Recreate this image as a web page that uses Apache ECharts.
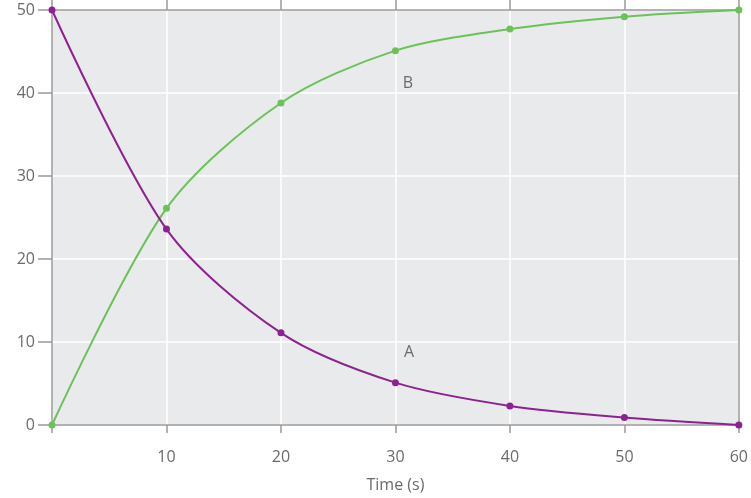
<!DOCTYPE html>
<html>
<head>
<meta charset="utf-8">
<script src="https://cdn.jsdelivr.net/npm/echarts@6/dist/echarts.min.js"></script>
<style>
  html, body { margin: 0; padding: 0; background: #fff; }
  #chart-container { width: 751px; height: 498px; }
</style>
</head>
<body>
<div id="chart-container"></div>
<script>
// values
var times = [0, 10, 20, 30, 40, 50, 60];
var seriesA = [50, 23.6, 11.1, 5.1, 2.3, 0.9, 0];
var seriesB = [0, 26.1, 38.8, 45.1, 47.7, 49.2, 50];
var labelA = { name: 'A', coord: [31.2, 8.8] };
var labelB = { name: 'B', coord: [31.1, 41.2] };
var xTicks = [0, 10, 20, 30, 40, 50, 60];
var yTicks = [0, 10, 20, 30, 40, 50];

var dom = document.getElementById('chart-container');
var myChart = echarts.init(dom, null, { renderer: 'canvas' });

function pairs(ys) {
	return times.map(function (t, i) { return [t, ys[i]]; });
}

var axisGray = '#9a9a9a';
var textGray = '#6b6b6b';

var option = {
	animation: false,
	textStyle: {
		fontFamily: 'Open Sans',
		fontSize: 16,
		color: textGray
	},
	grid: {
		left: 52,
		right: 12,
		top: 10,
		bottom: 73,
		show: true,
		backgroundColor: '#e9eaec',
		borderWidth: 0
	},
	xAxis: [
		{
			type: 'value',
			min: xTicks[0],
			max: xTicks[xTicks.length - 1],
			interval: 10,
			name: 'Time (s)',
			nameLocation: 'middle',
			nameGap: 52,
			nameTextStyle: { fontSize: 16, color: textGray },
			axisLine: { show: true, onZero: false, lineStyle: { color: axisGray, width: 1.5 } },
			axisTick: { show: true, length: 8, lineStyle: { color: axisGray, width: 1.5 } },
			axisLabel: {
				margin: 24,
				fontSize: 16,
				color: textGray,
				formatter: function (v) { return v === 0 ? '' : v; }
			},
			splitLine: { show: true, lineStyle: { color: '#ffffff', width: 1.5 } }
		},
		{
			type: 'value',
			position: 'top',
			min: xTicks[0],
			max: xTicks[xTicks.length - 1],
			interval: 10,
			axisLine: { show: true, onZero: false, lineStyle: { color: axisGray, width: 1.5 } },
			axisTick: { show: true, length: 10, lineStyle: { color: axisGray, width: 1.5 } },
			axisLabel: { show: false },
			splitLine: { show: false }
		}
	],
	yAxis: [
		{
			type: 'value',
			min: yTicks[0],
			max: yTicks[yTicks.length - 1],
			interval: 10,
			axisLine: { show: true, onZero: false, lineStyle: { color: axisGray, width: 1.5 } },
			axisTick: { show: true, length: 14, lineStyle: { color: axisGray, width: 1.5 } },
			axisLabel: { margin: 17, fontSize: 16, color: textGray },
			splitLine: { show: true, lineStyle: { color: '#ffffff', width: 1.5 } }
		},
		{
			type: 'value',
			position: 'right',
			min: yTicks[0],
			max: yTicks[yTicks.length - 1],
			interval: 10,
			axisLine: { show: true, onZero: false, lineStyle: { color: axisGray, width: 1.5 } },
			axisTick: { show: false },
			axisLabel: { show: false },
			splitLine: { show: false }
		}
	],
	series: [
		{
			name: 'B',
			type: 'line',
			smooth: 0.3,
			symbol: 'circle',
			symbolSize: 7,
			itemStyle: { color: '#6cc25a' },
			lineStyle: { color: '#6cc25a', width: 2 },
			data: pairs(seriesB),
			markPoint: {
				symbol: 'circle',
				symbolSize: 0,
				label: { show: true, formatter: '{b}', fontSize: 16, color: textGray, position: 'inside' },
				data: [labelB]
			},
			z: 3
		},
		{
			name: 'A',
			type: 'line',
			smooth: 0.3,
			symbol: 'circle',
			symbolSize: 7,
			itemStyle: { color: '#8e2190' },
			lineStyle: { color: '#8e2190', width: 2 },
			data: pairs(seriesA),
			markPoint: {
				symbol: 'circle',
				symbolSize: 0,
				label: { show: true, formatter: '{b}', fontSize: 16, color: textGray, position: 'inside' },
				data: [labelA]
			},
			z: 4
		}
	]
};

myChart.setOption(option);
window.addEventListener('resize', myChart.resize);
</script>
</body>
</html>
